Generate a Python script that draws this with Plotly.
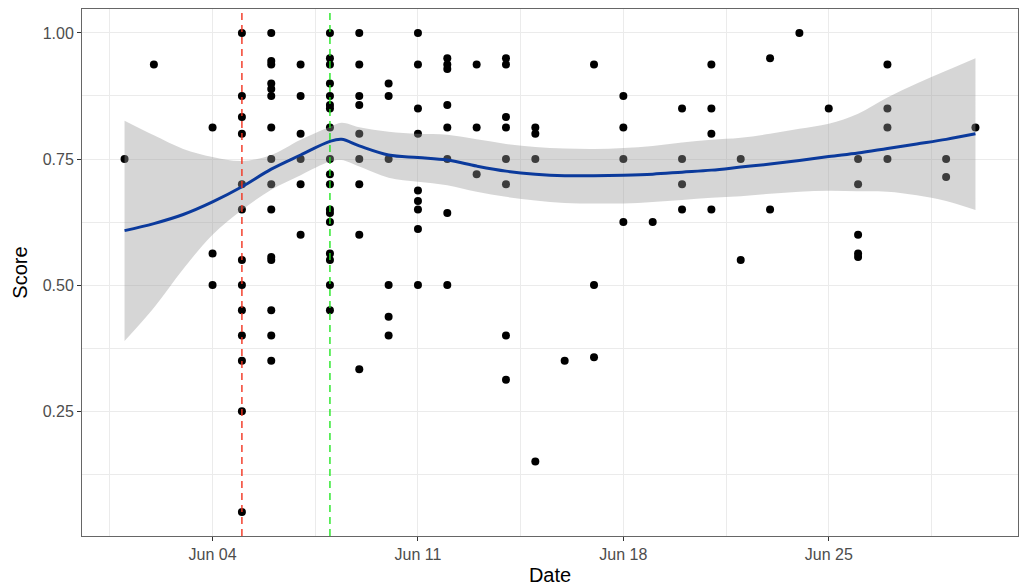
import plotly.graph_objects as go

# ---- point data (date, score) ----
point_dates = (
    ["2018-06-01"] * 1 + ["2018-06-02"] * 1 + ["2018-06-04"] * 3 + ["2018-06-05"] * 13 +
    ["2018-06-06"] * 15 + ["2018-06-07"] * 6 + ["2018-06-08"] * 18 + ["2018-06-09"] * 9 +
    ["2018-06-10"] * 6 + ["2018-06-11"] * 9 + ["2018-06-12"] * 8 + ["2018-06-13"] * 3 +
    ["2018-06-14"] * 8 + ["2018-06-15"] * 4 + ["2018-06-16"] * 1 + ["2018-06-17"] * 3 +
    ["2018-06-18"] * 4 + ["2018-06-19"] * 1 + ["2018-06-20"] * 4 + ["2018-06-21"] * 4 +
    ["2018-06-22"] * 2 + ["2018-06-23"] * 2 + ["2018-06-24"] * 1 + ["2018-06-25"] * 1 +
    ["2018-06-26"] * 5 + ["2018-06-27"] * 4 + ["2018-06-29"] * 2 + ["2018-06-30"] * 1
)
point_scores = [
    0.75,
    0.9375,
    0.8125, 0.5625, 0.5,
    1.0, 0.875, 0.8333, 0.8, 0.7, 0.65, 0.55, 0.5, 0.45, 0.4, 0.35, 0.25, 0.05,
    1.0, 0.9444, 0.9375, 0.9, 0.8889, 0.875, 0.8125, 0.75, 0.7, 0.65, 0.5556, 0.55, 0.45, 0.4, 0.35,
    0.9375, 0.875, 0.8, 0.75, 0.7, 0.6,
    1.0, 0.95, 0.9375, 0.9, 0.875, 0.8571, 0.85, 0.8125, 0.75, 0.72, 0.7, 0.65, 0.6429, 0.625, 0.5625, 0.55, 0.5, 0.45,
    1.0, 0.9375, 0.875, 0.8571, 0.8, 0.75, 0.7, 0.6, 0.3333,
    0.9, 0.875, 0.75, 0.5, 0.4375, 0.4,
    1.0, 0.9375, 0.85, 0.8, 0.6875, 0.6667, 0.65, 0.6111, 0.5,
    0.95, 0.9375, 0.9286, 0.8571, 0.8125, 0.75, 0.6429, 0.5,
    0.9375, 0.8125, 0.72,
    0.95, 0.9375, 0.8333, 0.8125, 0.75, 0.7, 0.4, 0.3125,
    0.8125, 0.8, 0.75, 0.15,
    0.35,
    0.9375, 0.5, 0.3571,
    0.875, 0.8125, 0.75, 0.625,
    0.625,
    0.85, 0.75, 0.7, 0.65,
    0.9375, 0.85, 0.8, 0.65,
    0.75, 0.55,
    0.95, 0.65,
    1.0,
    0.85,
    0.75, 0.7, 0.6, 0.5625, 0.5556,
    0.9375, 0.85, 0.8125, 0.75,
    0.75, 0.7143,
    0.8125,
]

# ---- smoother ----
smooth_dates = [
    "2018-06-01", "2018-06-02", "2018-06-03", "2018-06-04", "2018-06-05", "2018-06-06",
    "2018-06-07", "2018-06-08", "2018-06-08 09:30", "2018-06-09", "2018-06-10", "2018-06-11",
    "2018-06-12", "2018-06-13", "2018-06-14", "2018-06-15", "2018-06-16", "2018-06-17",
    "2018-06-18", "2018-06-19", "2018-06-20", "2018-06-21", "2018-06-22", "2018-06-23",
    "2018-06-24", "2018-06-25", "2018-06-26", "2018-06-27", "2018-06-28", "2018-06-29",
    "2018-06-30",
]
smooth_fit = [
    0.608, 0.622, 0.640, 0.665, 0.695, 0.730,
    0.758, 0.785, 0.789, 0.776, 0.758, 0.753,
    0.748, 0.736, 0.726, 0.720, 0.717, 0.717,
    0.718, 0.720, 0.724, 0.728, 0.734, 0.740,
    0.747, 0.755, 0.762, 0.771, 0.780, 0.789,
    0.800,
]
smooth_upper = [
    0.826, 0.797, 0.770, 0.754, 0.746, 0.758,
    0.788, 0.814, 0.822, 0.813, 0.804, 0.800,
    0.798, 0.789, 0.780, 0.774, 0.771, 0.770,
    0.772, 0.776, 0.783, 0.788, 0.792, 0.800,
    0.810, 0.820, 0.840, 0.872, 0.900, 0.925,
    0.950,
]
smooth_lower = [
    0.389, 0.455, 0.532, 0.600, 0.649, 0.689,
    0.718, 0.745, 0.748, 0.735, 0.713, 0.705,
    0.698, 0.685, 0.675, 0.668, 0.663, 0.662,
    0.662, 0.665, 0.669, 0.673, 0.676, 0.681,
    0.685, 0.687, 0.686, 0.685, 0.678, 0.667,
    0.649,
]

# ---- reference lines and axes ----
vline_dates = ["2018-06-05", "2018-06-08"]
vline_colors = ["#F2331F", "#22E622"]
x_tick_vals = ["2018-06-04", "2018-06-11", "2018-06-18", "2018-06-25"]
x_tick_text = ["Jun 04", "Jun 11", "Jun 18", "Jun 25"]
x_minor_vals = ["2018-05-31 12:00", "2018-06-07 12:00", "2018-06-14 12:00",
                "2018-06-21 12:00", "2018-06-28 12:00"]
y_tick_vals = [0.25, 0.50, 0.75, 1.00]
y_tick_text = ["0.25", "0.50", "0.75", "1.00"]
y_minor_vals = [0.125, 0.375, 0.625, 0.875]

FONT = "Liberation Sans, Arial, sans-serif"

fig = go.Figure()

fig.add_trace(go.Scatter(
    x=point_dates, y=point_scores, mode="markers",
    marker=dict(color="black", size=8, line=dict(width=0)),
    hoverinfo="x+y", showlegend=False,
))
fig.add_trace(go.Scatter(
    x=smooth_dates, y=smooth_lower, mode="lines",
    line=dict(width=0, shape="spline"), hoverinfo="skip", showlegend=False,
))
fig.add_trace(go.Scatter(
    x=smooth_dates, y=smooth_upper, mode="lines", fill="tonexty",
    fillcolor="rgba(153,153,153,0.4)",
    line=dict(width=0, shape="spline"), hoverinfo="skip", showlegend=False,
))
fig.add_trace(go.Scatter(
    x=smooth_dates, y=smooth_fit, mode="lines",
    line=dict(color="#0B3A9C", width=3, shape="spline"), showlegend=False,
))

for d, c in zip(vline_dates, vline_colors):
    fig.add_shape(type="line", xref="x", yref="paper", x0=d, x1=d, y0=0, y1=1,
                  line=dict(color=c, width=1.4, dash="7px,5px"), layer="above")

fig.update_layout(
    width=1024, height=587,
    margin=dict(l=82, r=6, t=9, b=51, autoexpand=False),
    paper_bgcolor="white", plot_bgcolor="white",
    font=dict(family=FONT, color="black"),
    showlegend=False,
)
fig.update_xaxes(
    automargin=False,
    range=["2018-05-30 13:12", "2018-07-01 10:48"],
    tickmode="array", tickvals=x_tick_vals, ticktext=x_tick_text,
    ticks="outside", ticklen=4, tickwidth=1.2, tickcolor="#333333",
    tickfont=dict(size=16, color="#4D4D4D", family=FONT),
    showgrid=True, gridcolor="#EBEBEB", gridwidth=1.4,
    minor=dict(tickmode="array", tickvals=x_minor_vals, showgrid=True,
               gridcolor="#EBEBEB", gridwidth=0.8, ticks=""),
    showline=True, linecolor="#666666", linewidth=1, mirror=True,
    zeroline=False,
    title=dict(text="Date", font=dict(size=20, color="black", family=FONT), standoff=5),
)
fig.update_yaxes(
    automargin=False,
    range=[0.0025, 1.0475],
    tickmode="array", tickvals=y_tick_vals, ticktext=y_tick_text,
    ticks="outside", ticklen=4, tickwidth=1.2, tickcolor="#333333",
    tickfont=dict(size=16, color="#4D4D4D", family=FONT),
    showgrid=True, gridcolor="#EBEBEB", gridwidth=1.4,
    minor=dict(tickmode="array", tickvals=y_minor_vals, showgrid=True,
               gridcolor="#EBEBEB", gridwidth=0.8, ticks=""),
    showline=True, linecolor="#666666", linewidth=1, mirror=True,
    zeroline=False,
    title=dict(text="Score", font=dict(size=20, color="black", family=FONT), standoff=9),
)

fig.write_html("out.html", config={"displayModeBar": False},
               post_script="document.body.style.margin='0px';")
